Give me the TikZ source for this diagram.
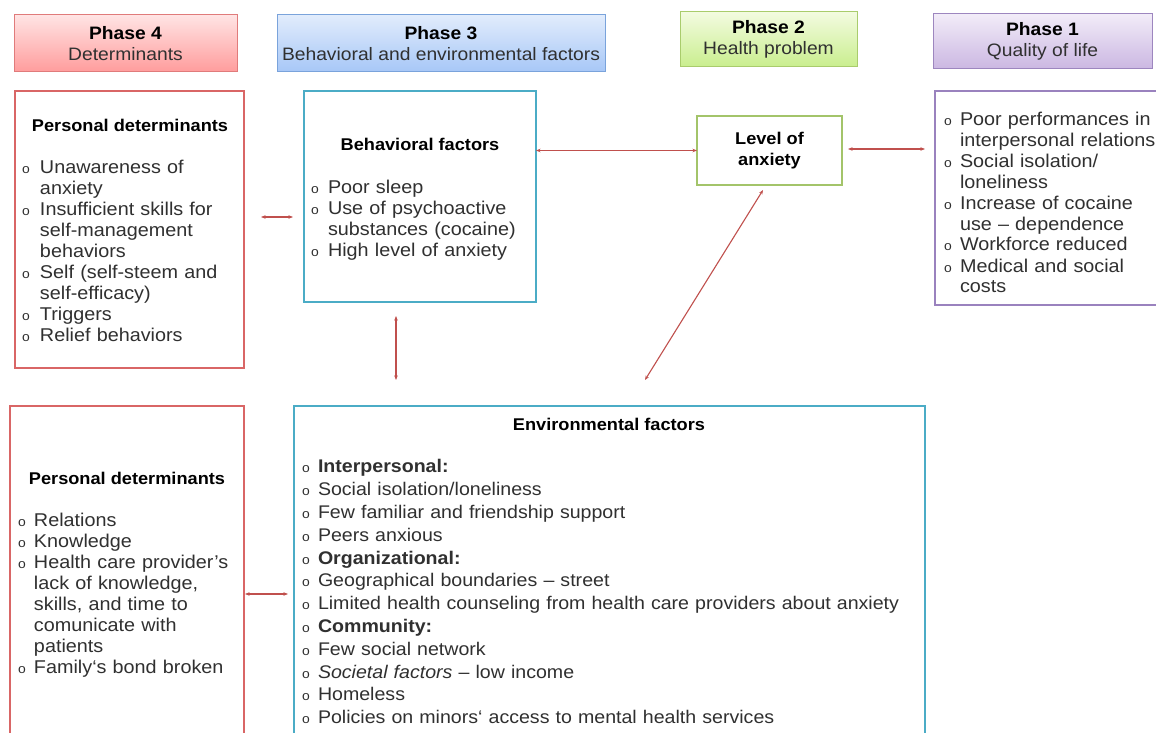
\documentclass[tikz,border=0pt]{standalone}
\usepackage{fontspec}
\setmainfont{Liberation Sans}[FakeStretch=1.07]
\usetikzlibrary{arrows.meta}

\definecolor{txt}{HTML}{303030}
\definecolor{redline}{HTML}{D96666}
\definecolor{cyanline}{HTML}{4BACC6}
\definecolor{greenline}{HTML}{A3C46A}
\definecolor{purpleline}{HTML}{9A82BE}
\definecolor{arrowred}{HTML}{C0504D}
\definecolor{p4top}{HTML}{FFE4E4}\definecolor{p4bot}{HTML}{FF9C9C}\definecolor{p4line}{HTML}{E07B7B}
\definecolor{p3top}{HTML}{E1ECFC}\definecolor{p3bot}{HTML}{A7C7F7}\definecolor{p3line}{HTML}{7AA3DB}
\definecolor{p2top}{HTML}{F3FBE0}\definecolor{p2bot}{HTML}{C9EE8E}\definecolor{p2line}{HTML}{A9CC6C}
\definecolor{p1top}{HTML}{F2ECF8}\definecolor{p1bot}{HTML}{CBB7E2}\definecolor{p1line}{HTML}{9D86BF}

% bullet list helpers
\newcommand{\bulmark}{{\fontsize{13}{13}\selectfont o}}
\newcommand{\itm}[1][17pt]{\par\hangindent=#1\hangafter=1\noindent\makebox[#1][l]{\bulmark}\ignorespaces}
\newcommand{\hd}[1]{{\bfseries\color{black}#1}}

\begin{document}
\begin{tikzpicture}[x=1pt,y=-1pt,
  every node/.style={inner sep=0pt, outer sep=0pt},
  phase/.style={line width=1pt, anchor=north west, align=center,
    font=\fontsize{18}{21}\selectfont, text=txt},
  box/.style={draw=#1, line width=1.2pt, anchor=north west},
  ttl/.style={font=\bfseries\fontsize{17}{20}\selectfont, text=black},
  lst/.style={anchor=north west, text width=#1, align=left,
    font=\fontsize{18.5}{21}\selectfont, text=txt},
  conn/.style={draw=arrowred, line width=1.1pt,
    >={Stealth[length=4.5pt,width=3.5pt]}, <->}]

\useasboundingbox (0,0) rectangle (1156,733);
\fill[white] (0,0) rectangle (1156,733);

% phase headers
\node[phase, draw=p4line, top color=p4top, bottom color=p4bot,
  minimum width=223pt, minimum height=57pt] (ph4) at (14,15) {\hd{Phase 4}\\Determinants};
\node[phase, draw=p3line, top color=p3top, bottom color=p3bot,
  minimum width=328pt, minimum height=57pt] (ph3) at (277,15) {\hd{Phase 3}\\Behavioral and environmental factors};
\node[phase, draw=p2line, top color=p2top, bottom color=p2bot,
  minimum width=177pt, minimum height=55pt] (ph2) at (680,12) {\hd{Phase 2}\\Health problem};
\node[phase, draw=p1line, top color=p1top, bottom color=p1bot,
  minimum width=219pt, minimum height=55pt] (ph1) at (933,14) {\hd{Phase 1}\\Quality of life};

% content boxes
\node[box=redline, minimum width=229pt, minimum height=277pt] (pdA) at (15,91) {};
\node[box=cyanline, minimum width=232pt, minimum height=211pt] (beh) at (304,91) {};
\node[box=greenline, minimum width=145pt, minimum height=69pt, align=center,
  font=\bfseries\fontsize{17}{21}\selectfont] (lev) at (697,116) {Level of\\anxiety};
\node[box=purpleline, minimum width=240pt, minimum height=214pt] (qol) at (935,91) {};
\node[box=redline, minimum width=234pt, minimum height=340pt] (pdB) at (10,406) {};
\node[box=cyanline, minimum width=631pt, minimum height=340pt] (env) at (294,406) {};

% titles
\node[ttl] (pdAt) at (130,125) {Personal determinants};
\node[ttl] (beht) at (420,144) {Behavioral factors};
\node[ttl] (pdBt) at (127,478) {Personal determinants};
\node[ttl] (envt) at (609,424) {Environmental factors};

% lists
\node[lst=215pt] (pdAl) at (22,152) {%
\itm[18pt] Unawareness of\newline anxiety
\itm[18pt] Insufficient skills for\newline self-management\newline behaviors
\itm[18pt] Self (self-steem and\newline self-efficacy)
\itm[18pt] Triggers
\itm[18pt] Relief behaviors\par};

\node[lst=220pt] (behl) at (311,172) {%
\itm Poor sleep
\itm Use of psychoactive\newline substances (cocaine)
\itm High level of anxiety\par};

\node[lst=230pt] (qoll) at (944,104) {%
\itm[16pt] Poor performances in\newline interpersonal relations
\itm[16pt] Social isolation/\newline loneliness
\itm[16pt] Increase of cocaine\newline use -- dependence
\itm[16pt] Workforce reduced
\itm[16pt] Medical and social\newline costs\par};

\node[lst=222pt] (pdBl) at (18,505) {%
\itm[16pt] Relations
\itm[16pt] Knowledge
\itm[16pt] Health care provider's\newline lack of knowledge,\newline skills, and time to\newline comunicate with\newline patients
\itm[16pt] Family`s bond broken\par};

\node[lst=620pt, font=\fontsize{18.3}{22.8}\selectfont] (envl) at (302,450) {%
\itm[16pt] \textbf{Interpersonal:}
\itm[16pt] Social isolation/loneliness
\itm[16pt] Few familiar and friendship support
\itm[16pt] Peers anxious
\itm[16pt] \textbf{Organizational:}
\itm[16pt] Geographical boundaries -- street
\itm[16pt] Limited health counseling from health care providers about anxiety
\itm[16pt] \textbf{Community:}
\itm[16pt] Few social network
\itm[16pt] \textit{Societal factors} -- low income
\itm[16pt] Homeless
\itm[16pt] Policies on minors` access to mental health services\par};

% connectors
\coordinate (a1s) at (261,217); \coordinate (a1e) at (293,217);
\coordinate (a3s) at (848,149); \coordinate (a3e) at (925,149);
\coordinate (a4s) at (396,316); \coordinate (a4e) at (396,380);
\coordinate (a5s) at (763,190); \coordinate (a5e) at (645,380);
\coordinate (a6s) at (245,594); \coordinate (a6e) at (288,594);
\draw[conn] (a1s) -- (a1e);
\draw[conn] (beh.east |- lev.west) -- (lev.west);
\draw[conn] (a3s) -- (a3e);
\draw[conn] (a4s) -- (a4e);
\draw[conn] (a5s) -- (a5e);
\draw[conn] (a6s) -- (a6e);
\end{tikzpicture}
\end{document}
